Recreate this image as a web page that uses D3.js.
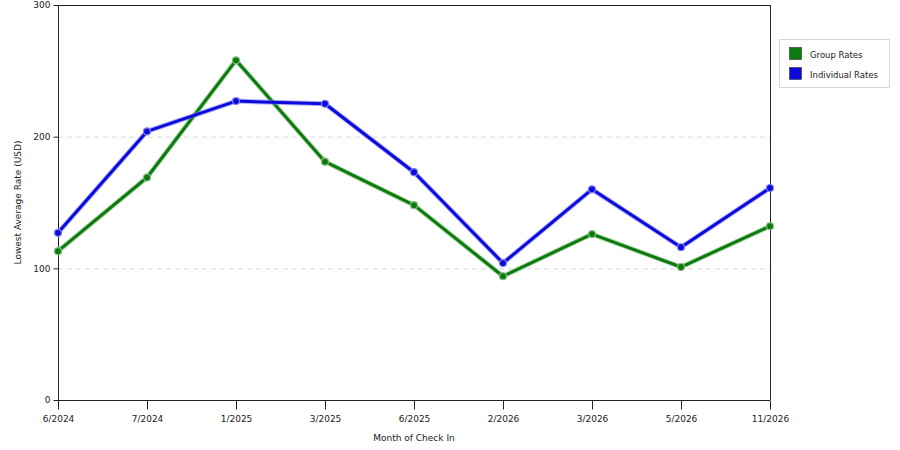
<!DOCTYPE html>
<html>
<head>
<meta charset="utf-8">
<script src="https://cdn.jsdelivr.net/npm/d3@7"></script>
<style>
  body { margin: 0; background: #fff; }
  text { font-family: "DejaVu Sans", Verdana, sans-serif; fill: #222; }
</style>
</head>
<body>
<script>
// datos
var meses = ["6/2024", "7/2024", "1/2025", "3/2025", "6/2025", "2/2026", "3/2026", "5/2026", "11/2026"];
var grupo = [113, 169, 258, 181, 148, 94, 126, 101, 132];
var individual = [127, 204, 227, 225, 173, 104, 160, 116, 161];
var ticksY = [0, 100, 200, 300];
var series = [
    { nombre: "Group Rates", valores: grupo, color: "#0d7a0d", halo: "#7fbf7f" },
    { nombre: "Individual Rates", valores: individual, color: "#0a0adc", halo: "#8080f0" }
];

var ancho = 900, alto = 450;
var izq = 58, der = 770, arriba = 5, abajo = 400;

var svg = d3.select("body").append("svg").attr("width", ancho).attr("height", alto);

var x = d3.scalePoint().domain(meses).range([izq, der]);
var y = d3.scaleLinear().domain([0, 300]).range([abajo, arriba]);

// rejilla
svg.append("g").selectAll("line").data([100, 200]).enter().append("line")
    .attr("x1", izq).attr("x2", der)
    .attr("y1", d => y(d) + 0.5).attr("y2", d => y(d) + 0.5)
    .attr("stroke", "#d8d8d8").attr("stroke-dasharray", "5,4");

// marco
svg.append("line").attr("x1", izq).attr("x2", der + 0.5).attr("y1", arriba + 0.5).attr("y2", arriba + 0.5).attr("stroke", "#222");
svg.append("line").attr("x1", der + 0.5).attr("x2", der + 0.5).attr("y1", arriba).attr("y2", abajo).attr("stroke", "#222");

// ejes
var ejeY = svg.append("g").attr("transform", `translate(${izq + 0.5},0)`)
    .call(d3.axisLeft(y).tickValues(ticksY).tickSize(5).tickPadding(3));
var ejeX = svg.append("g").attr("transform", `translate(0,${abajo + 0.5})`)
    .call(d3.axisBottom(x).tickSize(9).tickPadding(6));
[ejeY, ejeX].forEach(function (e) {
    e.select(".domain").attr("stroke", "#222");
    e.selectAll(".tick line").attr("stroke", "#222");
    e.selectAll(".tick text").attr("font-size", 9).attr("fill", "#222")
        .style("font-family", "'DejaVu Sans', Verdana, sans-serif");
});
ejeY.select(".domain").attr("d", `M0,${arriba}V${abajo}`);
ejeX.select(".domain").attr("d", `M${izq},0H${der}`);

// titulos de ejes
svg.append("text").attr("transform", `translate(21,${(arriba + abajo) / 2}) rotate(-90)`)
    .attr("text-anchor", "middle").attr("font-size", 9).text("Lowest Average Rate (USD)");
svg.append("text").attr("x", (izq + der) / 2).attr("y", 441)
    .attr("text-anchor", "middle").attr("font-size", 9).text("Month of Check In");

// lineas
var linea = d3.line().x((d, i) => x(meses[i])).y(d => y(d));
series.forEach(function (s) {
    var g = svg.append("g");
    g.append("path").attr("d", linea(s.valores)).attr("fill", "none")
        .attr("stroke", s.halo).attr("stroke-width", 5).attr("stroke-opacity", 0.6)
        .attr("stroke-linejoin", "round");
    g.append("path").attr("d", linea(s.valores)).attr("fill", "none")
        .attr("stroke", s.color).attr("stroke-width", 3).attr("stroke-linejoin", "round");
    g.selectAll("circle").data(s.valores).enter().append("circle")
        .attr("cx", (d, i) => x(meses[i])).attr("cy", d => y(d)).attr("r", 3.5)
        .attr("fill", s.color).attr("stroke", s.halo).attr("stroke-width", 1.2);
});

// leyenda
var leyenda = svg.append("g");
leyenda.append("rect").attr("x", 779.5).attr("y", 39.5).attr("width", 110).attr("height", 48)
    .attr("fill", "#fff").attr("stroke", "#d8d8d8");
series.forEach(function (s, i) {
    leyenda.append("rect").attr("x", 789.5).attr("y", 47.5 + i * 20).attr("width", 12).attr("height", 12)
        .attr("fill", s.color).attr("stroke", "#333").attr("stroke-width", 0.6);
    leyenda.append("text").attr("x", 810).attr("y", 57.5 + i * 20).attr("font-size", 8.5).text(s.nombre);
});
</script>
</body>
</html>
